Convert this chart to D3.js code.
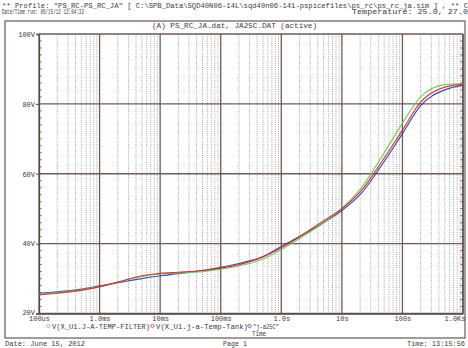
<!DOCTYPE html>
<html>
<head>
<meta charset="utf-8">
<script src="https://cdn.jsdelivr.net/npm/d3@7"></script>
<style>
  html, body { margin: 0; padding: 0; background: #fff; }
  svg { display: block; }
  text { font-family: "Liberation Mono", "DejaVu Sans Mono", monospace; fill: #3a3a3a; }
</style>
</head>
<body>
<script>
// Simulation time points (seconds)
const times = [1e-4, 2e-4, 5e-4, 1e-3, 2e-3, 5e-3, 1e-2, 2e-2, 5e-2, 0.1, 0.2, 0.5,
               1, 2, 5, 10, 20, 50, 100, 200, 500, 1000];
// Junction temperature traces (V = degC)
const filterTemp = [25.5, 26.0, 26.8, 27.7, 29.0, 30.6, 31.3, 31.6, 32.0, 32.7, 33.6, 35.6,
                    38.3, 41.5, 46.0, 50.0, 55.5, 66.0, 74.5, 82.0, 85.5, 85.8];
const tankTemp   = [25.3, 25.8, 26.6, 27.6, 29.0, 30.8, 31.5, 31.8, 32.3, 33.0, 34.0, 36.2,
                    38.8, 42.0, 46.5, 50.0, 54.8, 64.5, 72.5, 80.5, 84.8, 85.6];
const measured25 = [25.8, 26.2, 27.0, 27.9, 28.8, 30.0, 30.8, 31.4, 32.3, 33.2, 34.3, 36.3,
                    39.2, 42.0, 46.0, 49.5, 54.0, 63.5, 71.5, 79.5, 84.0, 85.3];
const seriesNames = ["V(X_U1.J-A-TEMP-FILTER)", "V(X_U1.j-a-Temp-Tank)", "\"j-a25C\""];
const seriesColors = ["#5fcf4a", "#d8262a", "#2a3aa8"];
// Axis ticks
const xTickValues = [1e-4, 1e-3, 1e-2, 1e-1, 1, 10, 100, 1000];
const xTickLabels = ["100us", "1.0ms", "10ms", "100ms", "1.0s", "10s", "100s", "1.0Ks"];
const yTickValues = [20, 40, 60, 80, 100];
const yTickLabels = ["20V", "40V", "60V", "80V", "100V"];

const W = 468, H = 348;
const plot = { left: 39, right: 463, top: 34, bottom: 313.5 };

const svg = d3.select("body").append("svg").attr("width", W).attr("height", H);

const x = d3.scaleLog().domain([1e-4, 1000]).range([plot.left, plot.right]);
const y = d3.scaleLinear().domain([20, 100]).range([plot.bottom, plot.top]);

// Helper for squeezed monospace text
function txt(str, x0, yb, len, anchor, size) {
  const t = svg.append("text").attr("x", x0).attr("y", yb)
    .attr("font-size", size || 7).text(str);
  if (anchor) t.attr("text-anchor", anchor);
  if (len) t.attr("textLength", len).attr("lengthAdjust", "spacingAndGlyphs");
  return t;
}

// Header
txt("** Profile: \"PS_RC-PS_RC_JA\"  [ C:\\SPB_Data\\SQD40N06-14L\\sqd40n06-141-pspicefiles\\ps_rc\\ps_rc_ja.sim ] , ** C", 2, 7.5, 466);
txt("Date/Time run: 06/15/12 13:04:32", 2, 14, 82, null, 6.5);
txt("Temperature: 25.0, 27.0", 352, 14, 116, null, 6.5);

// Outer frame
svg.append("rect").attr("x", 5).attr("y", 21).attr("width", 460).attr("height", 317)
  .attr("fill", "none").attr("stroke", "#6d5650").attr("stroke-width", 1.2);

// Title
txt("(A) PS_RC_JA.dat, JA25C.DAT (active)", 152, 28, 165);

// Minor vertical gridlines
const minor = [];
for (let d = -4; d < 3; d++) for (let m = 2; m <= 9; m++) minor.push(m * Math.pow(10, d));
svg.append("g").selectAll("line").data(minor).join("line")
  .attr("x1", d => x(d)).attr("x2", d => x(d))
  .attr("y1", plot.top).attr("y2", plot.bottom)
  .attr("stroke", "#8f8f8f").attr("stroke-width", 0.8).attr("stroke-dasharray", "1,1.2");

// Major vertical gridlines
svg.append("g").selectAll("line").data(xTickValues).join("line")
  .attr("x1", d => x(d)).attr("x2", d => x(d))
  .attr("y1", plot.top).attr("y2", plot.bottom)
  .attr("stroke", "#6e5a55").attr("stroke-width", 1.3);

// Horizontal gridlines
svg.append("g").selectAll("line").data(yTickValues).join("line")
  .attr("x1", plot.left).attr("x2", plot.right)
  .attr("y1", d => y(d)).attr("y2", d => y(d))
  .attr("stroke", "#6e5a55").attr("stroke-width", 1.3);

// Minor y ticks on both sides
const yMinor = d3.range(22, 100, 2).filter(v => v % 20 !== 0);
svg.append("g").selectAll("line").data(yMinor).join("line")
  .attr("x1", plot.left).attr("x2", plot.left + 2.5)
  .attr("y1", d => y(d)).attr("y2", d => y(d))
  .attr("stroke", "#555").attr("stroke-width", 0.9);
svg.append("g").selectAll("line").data(yMinor).join("line")
  .attr("x1", plot.right - 2.5).attr("x2", plot.right)
  .attr("y1", d => y(d)).attr("y2", d => y(d))
  .attr("stroke", "#555").attr("stroke-width", 0.9);

// Y axis
const yAxis = d3.axisLeft(y).tickValues(yTickValues)
  .tickFormat((d, i) => yTickLabels[i]).tickSize(3).tickPadding(1);
const gy = svg.append("g").attr("transform", `translate(${plot.left},0)`).call(yAxis);
gy.select(".domain").attr("stroke", "#5a4a45").attr("stroke-width", 1.3);
gy.selectAll(".tick line").attr("stroke", "#5a4a45");
gy.selectAll("text").attr("font-size", 7).attr("fill", "#3a3a3a")
  .style("font-family", "Liberation Mono, monospace");
gy.selectAll(".tick").filter(d => d === 20).select("text").attr("dy", "0.15em");

// X axis
const xAxis = d3.axisBottom(x).tickValues(xTickValues)
  .tickFormat((d, i) => xTickLabels[i]).tickSize(0).tickPadding(3);
const gx = svg.append("g").attr("transform", `translate(0,${plot.bottom})`).call(xAxis);
gx.select(".domain").attr("stroke", "#5a4a45").attr("stroke-width", 1.3);
gx.selectAll("text").attr("font-size", 7).attr("fill", "#3a3a3a")
  .style("font-family", "Liberation Mono, monospace");
gx.selectAll(".tick").filter(d => d === 1000).select("text")
  .attr("text-anchor", "end").attr("dx", 2);

// Right border
svg.append("line").attr("x1", plot.right).attr("x2", plot.right)
  .attr("y1", plot.top).attr("y2", plot.bottom)
  .attr("stroke", "#5a4a45").attr("stroke-width", 1.3);

// Traces
const line = d3.line().x(d => x(d[0])).y(d => y(d[1])).curve(d3.curveMonotoneX);
const traces = [filterTemp, tankTemp, measured25];
const drawOrder = [2, 0, 1];
drawOrder.forEach(i => {
  svg.append("path")
    .datum(times.map((t, k) => [t, traces[i][k]]))
    .attr("d", line)
    .attr("fill", "none")
    .attr("stroke", seriesColors[i])
    .attr("stroke-width", 1.2)
    .attr("stroke-opacity", 0.9);
});

// Legend
const legendX = [47, 151, 248];
const legendW = [98, 92, 26];
seriesNames.forEach((name, i) => {
  svg.append("path")
    .attr("d", d3.symbol(d3.symbolSquare, 8)())
    .attr("transform", `translate(${legendX[i] + 1.5},${326}) rotate(45)`)
    .attr("fill", "none").attr("stroke", seriesColors[i]).attr("stroke-width", 0.8);
  txt(name, legendX[i] + 5, 328.5, legendW[i]);
});
txt("Time", 252, 335.5, 14);

// Footer
txt("Date: June 15, 2012", 5, 345.5, 80);
txt("Page 1", 223, 345.5, 24);
txt("Time: 13:15:56", 465, 345.5, 58, "end");
</script>
</body>
</html>
